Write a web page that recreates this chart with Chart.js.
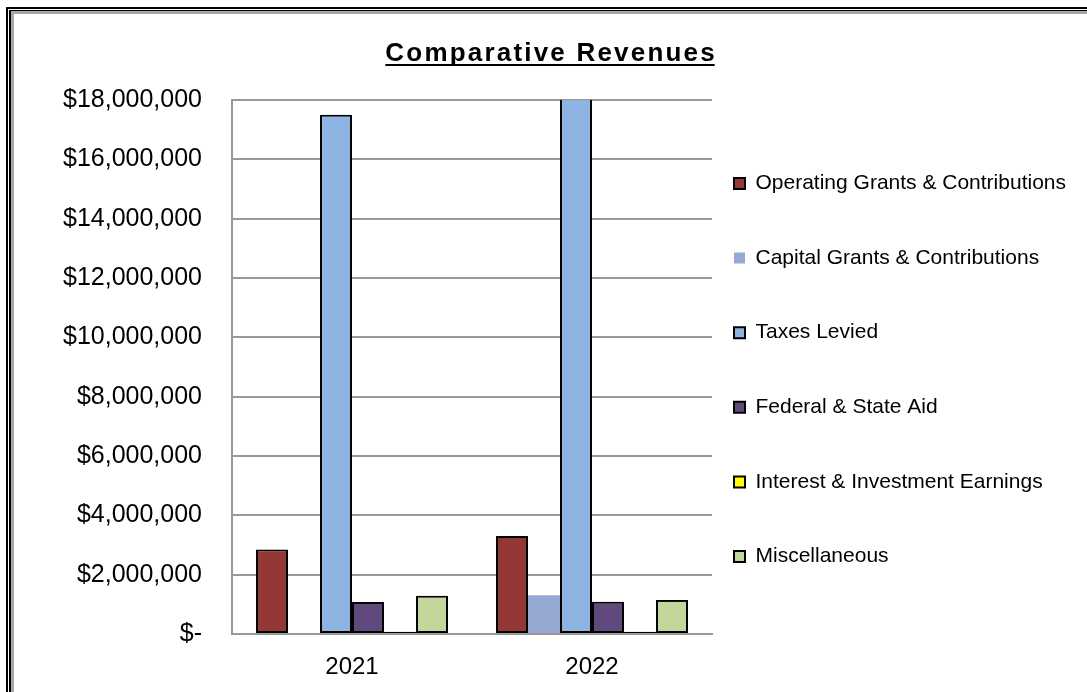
<!DOCTYPE html>
<html><head><meta charset="utf-8">
<script src="https://cdn.jsdelivr.net/npm/chart.js@4.4.0/dist/chart.umd.min.js"></script>
<style>
html,body{margin:0;padding:0;background:#fff;overflow:hidden;width:1087px;height:692px;}
.f{position:absolute;width:3000px;height:3000px;}
#f1{left:6px;top:7px;border-left:2px solid #000;border-top:2px solid #000;}
#f2{left:9px;top:10px;border-left:2px solid #000;border-top:1px solid #000;}
#f3{left:11px;top:11px;border-left:3px solid #a8a8a8;border-top:3px solid #a8a8a8;}
canvas{position:absolute;left:0;top:0;}
</style></head><body>
<div class="f" id="f1"></div><div class="f" id="f2"></div><div class="f" id="f3"></div>
<canvas id="c" width="1087" height="700"></canvas>
<script>
const titleText = 'Comparative Revenues';
const categories = ['2021', '2022'];
const seriesNames = ['Operating Grants & Contributions', 'Capital Grants & Contributions', 'Taxes Levied', 'Federal & State Aid', 'Interest & Investment Earnings', 'Miscellaneous'];
const operatingGrants = [2850000, 3300000];
const capitalGrants = [0, 1310000];
const taxesLevied = [17500000, 18500000];
const federalStateAid = [1080000, 1090000];
const interestEarnings = [80000, 80000];
const miscellaneous = [1290000, 1150000];
const yTickLabels = ['$-', '$2,000,000', '$4,000,000', '$6,000,000', '$8,000,000', '$10,000,000', '$12,000,000', '$14,000,000', '$16,000,000', '$18,000,000'];

const FONT = '"Liberation Sans", Arial, sans-serif';

const titlePlugin = {
  id: 'ulTitle',
  afterDraw(chart) {
    const ctx = chart.ctx;
    ctx.save();
    ctx.font = 'bold 26px ' + FONT;
    const sp = 2.2;
    ctx.letterSpacing = sp + 'px';
    const w = ctx.measureText(titleText).width - sp;
    const x = 550 - w / 2;
    ctx.fillStyle = '#000';
    ctx.textAlign = 'left';
    ctx.textBaseline = 'alphabetic';
    ctx.fillText(titleText, x, 61);
    ctx.fillRect(x, 64, w, 2);
    ctx.restore();
  }
};

const legendShift = {
  id: 'legendShift',
  afterLayout(chart) {
    const lg = chart.legend;
    if (!lg) return;
    const pad = lg.options.labels.padding;
    lg.left = chart.chartArea.right + 22 - pad;
    lg.right = chart.width;
    lg.width = lg.right - lg.left;
    lg.top += 3;
    lg.bottom += 3;
  }
};

const dsBase = {
  borderColor: '#000000',
  borderWidth: 2,
  borderSkipped: false,
  categoryPercentage: 0.8,
  barPercentage: 1.0,
  clip: {left: false, top: 0, right: false, bottom: false}
};

new Chart(document.getElementById('c'), {
  type: 'bar',
  data: {
    labels: categories,
    datasets: [
      Object.assign({}, dsBase, {label: seriesNames[0], data: operatingGrants, backgroundColor: '#953735'}),
      Object.assign({}, dsBase, {label: seriesNames[1], data: capitalGrants, backgroundColor: '#95A9D2', borderWidth: 0}),
      Object.assign({}, dsBase, {label: seriesNames[2], data: taxesLevied, backgroundColor: '#8EB4E3'}),
      Object.assign({}, dsBase, {label: seriesNames[3], data: federalStateAid, backgroundColor: '#604A7B'}),
      Object.assign({}, dsBase, {label: seriesNames[4], data: interestEarnings, backgroundColor: '#FFFF00'}),
      Object.assign({}, dsBase, {label: seriesNames[5], data: miscellaneous, backgroundColor: '#C3D69B'})
    ]
  },
  options: {
    responsive: false,
    animation: false,
    devicePixelRatio: 1,
    layout: {padding: {left: 33, right: 147, top: 100, bottom: 0}},
    plugins: {
      title: {display: false},
      tooltip: {enabled: false},
      legend: {
        position: 'right',
        fullSize: false,
        maxWidth: 228,
        labels: {
          color: '#000',
          font: {family: FONT, size: 21},
          boxWidth: 11,
          boxHeight: 11,
          padding: 53.6
        }
      }
    },
    scales: {
      x: {
        grid: {display: false, drawTicks: false},
        border: {display: true, color: '#999', width: 2},
        ticks: {color: '#000', font: {family: FONT, size: 24}, padding: 18.6}
      },
      y: {
        min: 0,
        max: 18000000,
        grid: {color: '#999', lineWidth: 2, drawTicks: false},
        border: {display: true, color: '#999', width: 2},
        ticks: {
          stepSize: 2000000,
          color: '#000',
          font: {family: FONT, size: 25},
          padding: 30,
          callback: (v, i) => yTickLabels[i]
        }
      }
    }
  },
  plugins: [titlePlugin, legendShift]
});
</script>
</body></html>
